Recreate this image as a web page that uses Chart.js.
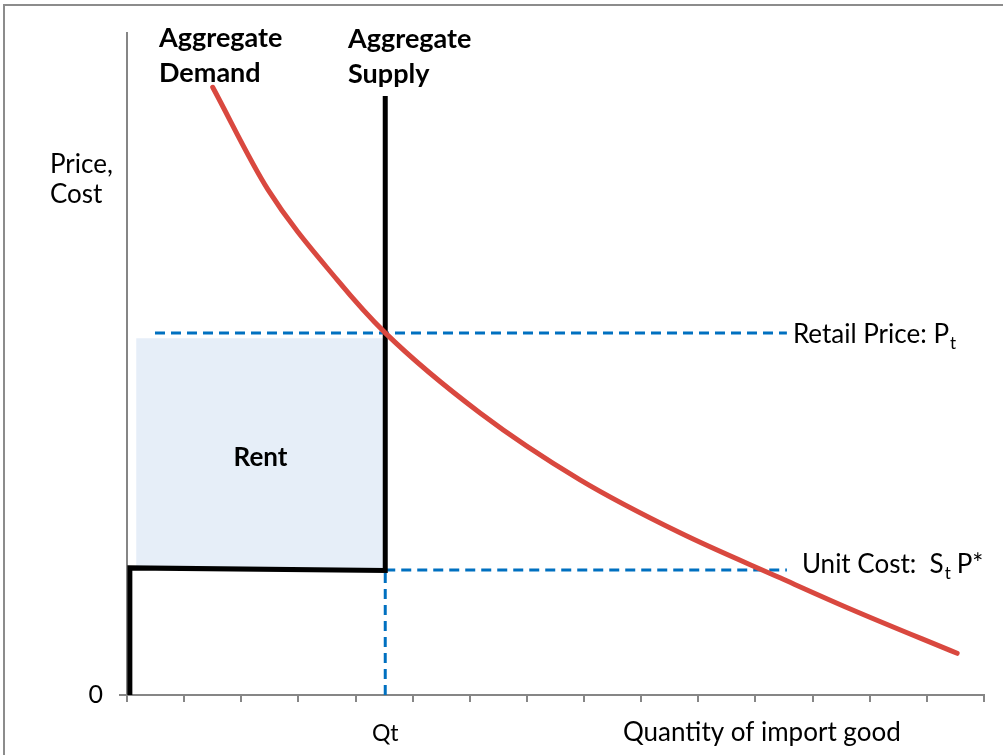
<!DOCTYPE html>
<html>
<head>
<meta charset="utf-8">
<script src="https://cdn.jsdelivr.net/npm/chart.js@4/dist/chart.umd.min.js"></script>
<style>
  body { margin: 0; background: #fff; }
</style>
</head>
<body>
<canvas id="chart" width="1003" height="755"></canvas>
<script>
// demand curve (quantity, price)
var demandQty   = [1.5, 2.47, 3.68, 4.52, 6.18, 7.93, 9.68, 11.43, 12.66, 14.53];
var demandPrice = [91.8, 76.3, 62.7, 54.7, 42.6, 32.5, 24.5, 17.7, 13.0, 6.3];

// aggregate supply (quota): unit cost step then vertical at Qt
var supplyQty   = [0.05, 0.05, 4.52, 4.52];
var supplyPrice = [0, 19.2, 18.8, 90.5];

var qt = 4.52;
var retailQty   = [0.49, 11.55];
var retailPrice = [54.7, 54.7];
var unitCostQty   = [4.52, 11.55];
var unitCostPrice = [18.9, 18.9];
var qtLinePrice = [0, 18.9];

var rentQty = [0.16, 4.48];
var rentTop = [53.9, 53.9];
var rentBottom = 19.2;

var xTicks = [0, 15];   // min / max of the quantity axis
var yTicks = [0, 100];  // min / max of the price axis

function pts(xs, ys) {
    return xs.map(function (x, i) { return { x: x, y: ys[i] }; });
}

var blue = '#0070C0';
var grey = '#868686';
var font = 'Lato';

var labelsPlugin = {
    id: 'labels',
    beforeDraw: function (chart) {
        var ctx = chart.ctx;
        ctx.save();
        ctx.strokeStyle = '#8c8c8c';
        ctx.lineWidth = 2;
        ctx.beginPath();
        ctx.moveTo(4, 755);
        ctx.lineTo(4, 5);
        ctx.lineTo(1003, 5);
        ctx.stroke();
        ctx.restore();
    },
    afterDatasetsDraw: function (chart) {
        var ctx = chart.ctx;
        var xs = chart.scales.x, ys = chart.scales.y;
        ctx.save();
        ctx.fillStyle = '#000';
        ctx.textBaseline = 'alphabetic';
        ctx.textAlign = 'left';

        ctx.font = 'bold 27px ' + font;
        ctx.fillText('Aggregate', 159, 47, 124);
        ctx.fillText('Demand', 159, 82);
        ctx.fillText('Aggregate', 348, 48, 124);
        ctx.fillText('Supply', 348, 83);

        ctx.font = '26px ' + font;
        ctx.fillText('Price,', 50, 173);
        ctx.fillText('Cost', 50, 203);

        ctx.font = 'bold 26px ' + font;
        ctx.textAlign = 'center';
        ctx.textBaseline = 'middle';
        ctx.fillText('Rent', xs.getPixelForValue((rentQty[0] + rentQty[1]) / 2) + 1,
            ys.getPixelForValue((rentTop[0] + rentBottom) / 2) + 5);

        ctx.textAlign = 'left';
        ctx.textBaseline = 'alphabetic';
        ctx.font = '26px ' + font;
        var x = xs.getPixelForValue(retailQty[1]) + 6;
        var y = ys.getPixelForValue(retailPrice[0]) + 10;
        ctx.fillText('Retail Price: P', x, y);
        var w = ctx.measureText('Retail Price: P').width;
        ctx.font = '17px ' + font;
        ctx.fillText('t', x + w + 1, y + 6);

        ctx.font = '26px ' + font;
        x = xs.getPixelForValue(unitCostQty[1]) + 15;
        y = ys.getPixelForValue(unitCostPrice[0]) + 3;
        ctx.fillText('Unit Cost:  S', x, y);
        w = ctx.measureText('Unit Cost:  S').width;
        ctx.font = '17px ' + font;
        ctx.fillText('t', x + w + 1, y + 6);
        ctx.font = '26px ' + font;
        ctx.fillText('P*', x + w + 13, y);

        ctx.fillText('Quantity of import good', 623, 741);
        ctx.restore();
    }
};

new Chart(document.getElementById('chart').getContext('2d'), {
    type: 'scatter',
    data: {
        datasets: [
            {
                label: 'Aggregate Demand',
                data: pts(demandQty, demandPrice),
                showLine: true,
                borderColor: '#D9483F',
                borderWidth: 5,
                borderCapStyle: 'round',
                cubicInterpolationMode: 'monotone',
                pointRadius: 0
            },
            {
                label: 'Aggregate Supply',
                data: pts(supplyQty, supplyPrice),
                showLine: true,
                borderColor: '#000',
                borderWidth: 5,
                borderJoinStyle: 'miter',
                pointRadius: 0
            },
            {
                label: 'Retail Price',
                data: pts(retailQty, retailPrice),
                showLine: true,
                borderColor: blue,
                borderWidth: 3,
                borderDash: [10, 6],
                pointRadius: 0
            },
            {
                label: 'Unit Cost',
                data: pts(unitCostQty, unitCostPrice),
                showLine: true,
                borderColor: blue,
                borderWidth: 3,
                borderDash: [10, 6],
                pointRadius: 0
            },
            {
                label: 'Qt',
                data: pts([qt, qt], qtLinePrice),
                showLine: true,
                borderColor: blue,
                borderWidth: 3,
                borderDash: [10, 6],
                pointRadius: 0
            },
            {
                label: 'Rent',
                data: pts(rentQty, rentTop),
                showLine: true,
                borderWidth: 0,
                borderColor: 'rgba(0,0,0,0)',
                backgroundColor: '#E6EEF8',
                fill: { value: rentBottom },
                pointRadius: 0
            }
        ]
    },
    options: {
        responsive: false,
        animation: false,
        layout: { padding: { left: 0, right: 19, top: 33, bottom: 0 } },
        plugins: {
            legend: { display: false },
            tooltip: { enabled: false }
        },
        scales: {
            x: {
                type: 'linear',
                position: 'bottom',
                min: xTicks[0],
                max: xTicks[1],
                ticks: { stepSize: 1, display: false },
                grid: { drawOnChartArea: false, drawTicks: true, tickLength: 7, color: grey, lineWidth: 2 },
                border: { color: grey, width: 2 },
                afterFit: function (s) { s.height = 8; }
            },
            xq: {
                type: 'linear',
                position: 'bottom',
                min: xTicks[0],
                max: xTicks[1],
                afterBuildTicks: function (s) { s.ticks = [{ value: qt }]; },
                ticks: {
                    padding: 9,
                    color: '#000',
                    font: { family: font, size: 23 },
                    callback: function () { return 'Qt'; }
                },
                grid: { display: false },
                border: { display: false },
                afterFit: function (s) { s.height = 52; }
            },
            y: {
                type: 'linear',
                min: yTicks[0],
                max: yTicks[1],
                afterBuildTicks: function (s) { s.ticks = [{ value: 0 }]; },
                ticks: {
                    padding: 16,
                    color: '#000',
                    font: { family: font, size: 25 }
                },
                grid: { drawOnChartArea: false, drawTicks: true, tickLength: 8, color: grey, lineWidth: 2 },
                border: { color: grey, width: 2 },
                afterFit: function (s) { s.width = 127; }
            }
        }
    },
    plugins: [labelsPlugin]
});
</script>
</body>
</html>
